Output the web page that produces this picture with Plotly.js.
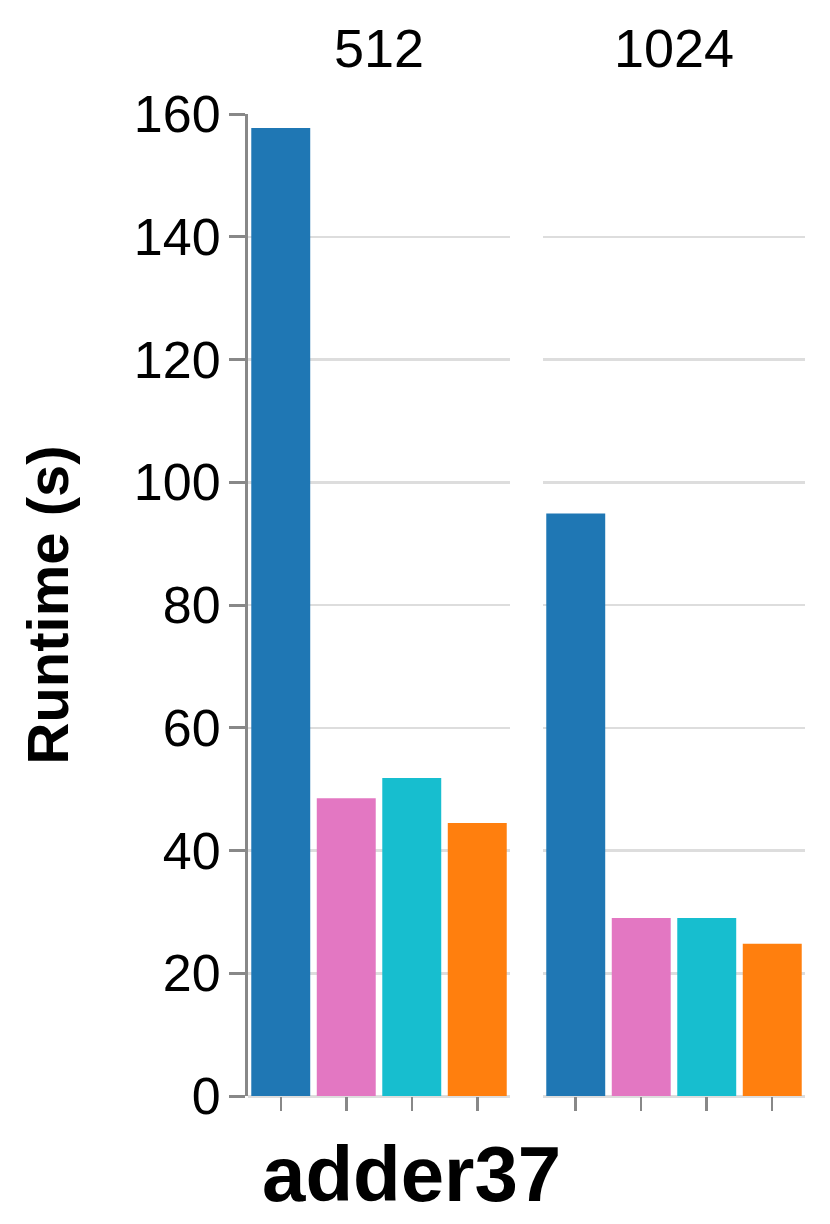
<!DOCTYPE html>
<html>
<head>
<meta charset="utf-8">
<script src="https://cdn.plot.ly/plotly-3.0.1.min.js"></script>
<style>
  html, body { margin: 0; padding: 0; background: #fff; }
  #chart { width: 830px; height: 1224px; }
</style>
</head>
<body>
<div id="chart"></div>
<script>
// facet columns and the four methods (colour-coded, no tick labels in the original)
const facets = ['512', '1024'];
const methods = ['m1', 'm2', 'm3', 'm4'];
const methodColors = ['#1f77b4', '#e377c2', '#17becf', '#ff7f0e'];

// runtime in seconds
const runtime512 = [157.7, 48.5, 51.8, 44.5];
const runtime1024 = [94.9, 29.0, 29.0, 24.8];

const yTicks = [0, 20, 40, 60, 80, 100, 120, 140, 160];

const FONT = 'Liberation Sans, Arial, Helvetica, sans-serif';

const trace512 = {
    type: 'bar',
    x: methods,
    y: runtime512,
    xaxis: 'x',
    yaxis: 'y',
    marker: { color: methodColors, line: { width: 0 } },
    showlegend: false,
    hoverinfo: 'y'
};

const trace1024 = {
    type: 'bar',
    x: methods,
    y: runtime1024,
    xaxis: 'x2',
    yaxis: 'y2',
    marker: { color: methodColors, line: { width: 0 } },
    showlegend: false,
    hoverinfo: 'y'
};

const xCommon = {
    type: 'category',
    showticklabels: false,
    ticks: 'outside',
    ticklen: 14,
    tickwidth: 2.5,
    tickcolor: '#888',
    showline: false,
    showgrid: false,
    fixedrange: true
};

const yCommon = {
    range: [0, 160],
    tickvals: yTicks,
    showgrid: true,
    gridcolor: '#ddd',
    gridwidth: 2.5,
    zeroline: true,
    zerolinecolor: '#ddd',
    zerolinewidth: 3,
    fixedrange: true
};

const layout = {
    width: 830,
    height: 1224,
    margin: { l: 248, r: 25, t: 114, b: 128 },
    paper_bgcolor: '#fff',
    plot_bgcolor: '#fff',
    bargap: 0.1,
    font: { family: FONT, color: '#000' },
    xaxis: Object.assign({}, xCommon, { domain: [0, 0.4704], anchor: 'y' }),
    xaxis2: Object.assign({}, xCommon, { domain: [0.5296, 1], anchor: 'y2' }),
    yaxis: Object.assign({}, yCommon, {
        anchor: 'x',
        showline: true,
        linecolor: '#888',
        linewidth: 3,
        ticks: 'outside',
        ticklen: 16,
        tickwidth: 3,
        tickcolor: '#888',
        ticklabelstandoff: -2,
        tickfont: { size: 52, family: FONT, color: '#000' },
        title: {
            text: 'Runtime (s)',
            font: { size: 58, family: FONT, color: '#000', weight: 'bold' },
            standoff: 47
        }
    }),
    yaxis2: Object.assign({}, yCommon, {
        anchor: 'x2',
        matches: 'y',
        showline: false,
        ticks: '',
        showticklabels: false
    }),
    annotations: [
        {
            text: facets[0], xref: 'x domain', yref: 'paper', x: 0.5, y: 1.067,
            xanchor: 'center', yanchor: 'middle', showarrow: false,
            font: { size: 54, family: FONT, color: '#000' }
        },
        {
            text: facets[1], xref: 'x2 domain', yref: 'paper', x: 0.5, y: 1.067,
            xanchor: 'center', yanchor: 'middle', showarrow: false,
            font: { size: 54, family: FONT, color: '#000' }
        },
        {
            text: 'adder37', xref: 'paper', yref: 'paper', x: 0.293, y: -0.079,
            xanchor: 'center', yanchor: 'middle', showarrow: false,
            font: { size: 78, family: FONT, color: '#000', weight: 'bold' }
        }
    ]
};

Plotly.newPlot('chart', [trace512, trace1024], layout, { displayModeBar: false, staticPlot: true });
</script>
</body>
</html>
